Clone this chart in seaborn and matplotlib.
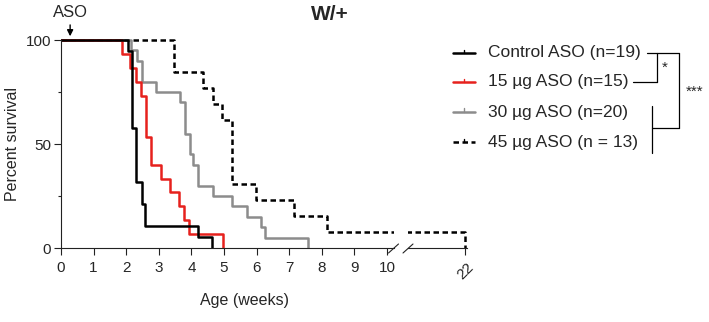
import matplotlib
matplotlib.use("Agg")
import matplotlib.pyplot as plt
from matplotlib.lines import Line2D
import pandas as pd
import seaborn as sns

# ---------------- data (Kaplan-Meier steps: time of drop, survival after drop) ----------------
groups = ["Control ASO (n=19)", "15 \u00b5g ASO (n=15)", "30 \u00b5g ASO (n=20)", "45 \u00b5g ASO (n = 13)"]

ctrl_weeks = [0, 2.06, 2.19, 2.30, 2.47, 2.58, 4.21, 4.63]
ctrl_surv = [100, 94.7, 57.9, 31.6, 21.1, 10.5, 5.3, 0]

aso15_weeks = [0, 1.88, 2.12, 2.30, 2.45, 2.60, 2.77, 3.06, 3.35, 3.62, 3.78, 3.93, 4.96]
aso15_surv = [100, 93.3, 86.7, 80.0, 73.3, 53.3, 40.0, 33.3, 26.7, 20.0, 13.3, 6.7, 0]

aso30_weeks = [0, 2.16, 2.32, 2.47, 2.92, 3.65, 3.80, 3.95, 4.06, 4.21, 4.67, 5.24, 5.70, 6.14, 6.26, 7.59]
aso30_surv = [100, 95, 90, 80, 75, 70, 55, 45, 40, 30, 25, 20, 15, 10, 5, 0]

aso45_weeks = [0, 3.48, 4.37, 4.65, 4.94, 5.24, 5.98, 7.15, 8.15, 22.0]
aso45_surv = [100, 84.6, 76.9, 69.2, 61.5, 30.8, 23.1, 15.4, 7.7, 0]

x_ticks_left = list(range(0, 11))
x_ticks_right = [22]
y_ticks = [0, 50, 100]
y_minor = [25, 75]

colors = ["#000000", "#e6211d", "#8c8c8c", "#000000"]
dash_specs = ["", "", "", (2.2, 1.4)]

series = [(ctrl_weeks, ctrl_surv), (aso15_weeks, aso15_surv),
          (aso30_weeks, aso30_surv), (aso45_weeks, aso45_surv)]
df = pd.concat([pd.DataFrame({"weeks": t, "survival": s, "group": g})
                for g, (t, s) in zip(groups, series)], ignore_index=True)

palette = dict(zip(groups, colors))
dashes = dict(zip(groups, dash_specs))

# ---------------- figure ----------------
sns.set_style("ticks")
plt.rcParams["font.family"] = ["Liberation Sans", "DejaVu Sans"]

W, H = 709, 322
fig = plt.figure(figsize=(W / 100, H / 100), dpi=100)


def fx(px):
    return px / W


def fy(py):
    return 1 - py / H


PX_PER_WEEK = 32.6
x0, ybot, ytop = 61, 248, 36.9
ax1 = fig.add_axes([fx(x0), fy(ybot), 10.2 * PX_PER_WEEK / W, (ybot - ytop) / H])
ax2_left = 408
ax2 = fig.add_axes([fx(ax2_left), fy(ybot), 1.8 * PX_PER_WEEK / W, (ybot - ytop) / H])

draw_order = [groups[3], groups[2], groups[1], groups[0]]
for ax in (ax1, ax2):
    sns.lineplot(data=df, x="weeks", y="survival", hue="group", style="group",
                 hue_order=draw_order, style_order=draw_order,
                 palette=palette, dashes=dashes, estimator=None, sort=False,
                 drawstyle="steps-post", linewidth=1.8, legend=False, ax=ax)
    ax.set_xlabel("")
    ax.set_ylabel("")
    ax.set_ylim(0, 101.5)
    for sp in ("top", "right"):
        ax.spines[sp].set_visible(False)
    ax.spines["bottom"].set_linewidth(0.8)
    ax.spines["bottom"].set_color("#222222")
    ax.tick_params(axis="both", which="major", length=5, width=0.8, labelsize=11,
                   color="#222222")
    ax.tick_params(axis="x", which="major", pad=4)
    ax.tick_params(axis="y", which="major", pad=2)

ax1.set_xlim(0, 10.2)
ax1.set_xticks(x_ticks_left)
ax1.set_xticklabels([str(v) for v in x_ticks_left])
ax1.set_yticks(y_ticks)
ax1.set_yticklabels([str(v) for v in y_ticks])
ax1.set_yticks(y_minor, minor=True)
ax1.tick_params(axis="y", which="minor", length=2.5, width=0.8, color="#222222")
ax1.spines["left"].set_bounds(0, 100)
ax1.spines["left"].set_linewidth(0.8)
ax1.spines["left"].set_color("#222222")

ax2.set_xlim(20.25, 22.05)
ax2.set_xticks(x_ticks_right)
ax2.set_xticklabels([str(v) for v in x_ticks_right], rotation=45)
ax2.set_yticks([])
ax2.spines["left"].set_visible(False)

# axis break marks
for (xa, ya, xb, yb) in [(388.5, 253, 398.5, 244), (403, 253, 413, 244)]:
    fig.add_artist(Line2D([fx(xa), fx(xb)], [fy(ya), fy(yb)], transform=fig.transFigure,
                          color="#222222", lw=0.8))

# axis labels and title
fig.text(fx(13), fy(144), "Percent survival", rotation=90, ha="center", va="center", fontsize=11.5)
fig.text(fx(244), fy(301), "Age (weeks)", ha="center", va="center", fontsize=11.5)
fig.text(fx(330), fy(14), "W/+", ha="center", va="center", fontsize=15, fontweight="bold")

# ASO arrow
ax1.annotate("ASO", xy=(0.28, 101.8), xytext=(0.28, 109.5), ha="center", va="bottom",
             fontsize=12, annotation_clip=False,
             arrowprops=dict(arrowstyle="-|>", color="black", lw=1.0, mutation_scale=9,
                             shrinkA=1, shrinkB=0))

# legend (manual, figure coordinates)
rows_y = [53, 82, 112, 142]
for g, c, d, yy in zip(groups, colors, dash_specs, rows_y):
    ln = Line2D([fx(453), fx(475)], [fy(yy), fy(yy)], transform=fig.transFigure,
                color=c, lw=1.8)
    if d:
        ln.set_dashes(d)
    fig.add_artist(ln)
    fig.add_artist(Line2D([fx(464), fx(464)], [fy(yy), fy(yy - 3.5)],
                          transform=fig.transFigure, color=c, lw=1.0))
    fig.text(fx(488), fy(yy), g, ha="left", va="center", fontsize=12.5)

# significance brackets
br = [
    ((646.7, 53.3), (679.3, 53.3)),
    ((633.3, 81.7), (657.3, 81.7)),
    ((657.3, 53.3), (657.3, 81.7)),
    ((679.3, 53.3), (679.3, 128.3)),
    ((651.7, 128.3), (679.3, 128.3)),
    ((651.7, 106), (651.7, 153.3)),
]
for (xa, ya), (xb, yb) in br:
    fig.add_artist(Line2D([fx(xa), fx(xb)], [fy(ya), fy(yb)], transform=fig.transFigure,
                          color="black", lw=0.9))
fig.text(fx(665), fy(68), "*", ha="center", va="center", fontsize=11)
fig.text(fx(695), fy(92), "***", ha="center", va="center", fontsize=11)

fig.savefig("out.png", dpi=100)
